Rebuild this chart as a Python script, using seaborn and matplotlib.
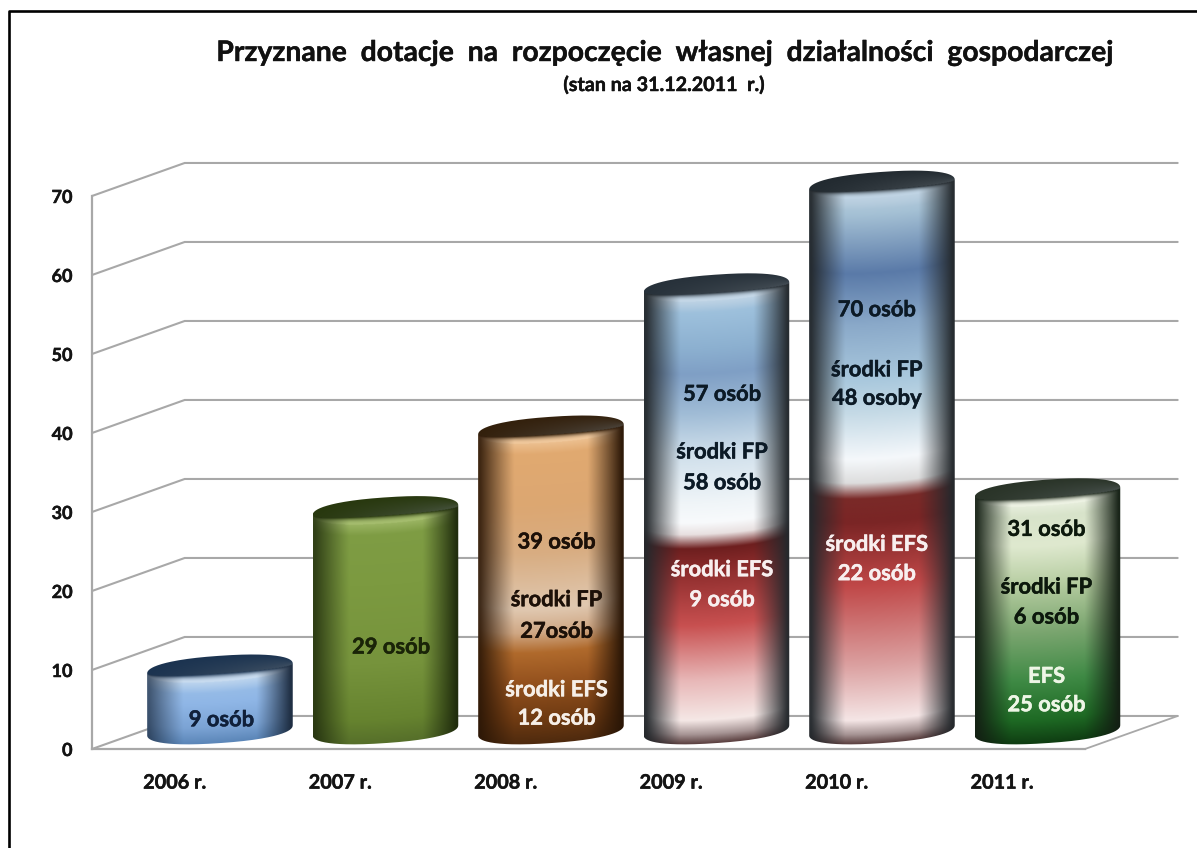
import numpy as np
import pandas as pd
import matplotlib
matplotlib.use("Agg")
import matplotlib.pyplot as plt
import matplotlib.patheffects as pe
from matplotlib.colors import to_rgb
from matplotlib.lines import Line2D
from matplotlib.patches import PathPatch
from matplotlib.path import Path
import seaborn as sns

years = ["2006 r.", "2007 r.", "2008 r.", "2009 r.", "2010 r.", "2011 r."]
heights = [7.75, 27.8, 38.0, 56.0, 69.0, 30.05]
y_ticks = [0, 10, 20, 30, 40, 50, 60, 70]

bar_texts = [
    ["9 osób"],
    ["29 osób"],
    ["39 osób", "środki FP", "27osób", "środki EFS", "12 osób"],
    ["57 osób", "środki FP", "58 osób", "środki EFS", "9 osób"],
    ["70 osób", "środki FP", "48 osoby", "środki EFS", "22 osób"],
    ["31 osób", "środki FP", "6 osób", "EFS", "25 osób"],
]

# colour along each cylinder: height in chart units, colour at the front centre
shade_z = [
    [0, 2, 5, 8],
    [0, 3, 10, 20, 28],
    [0, 3, 8, 11.5, 14, 17, 24, 30, 38],
    [0, 1.2, 3, 8, 15, 22, 24.7, 26.5, 28, 30.4, 36.7, 41.8, 46.8, 50, 54.4, 56],
    [0, 1.2, 3, 10, 20, 28, 31, 33, 36, 41.8, 46, 53, 59.5, 67, 69],
    [0, 3, 8, 14, 20, 25, 30],
]
shade_c = [
    ["#5b86b8", "#7ba3d4", "#8fb6e6", "#9cc0e8"],
    ["#566f2a", "#66832f", "#76933c", "#7c9a40", "#7f9d45"],
    ["#4e2a0e", "#6e3a12", "#96531f", "#b06a2c", "#cfa784", "#e0c8b0", "#d8ad82", "#dca772", "#e2aa70"],
    ["#5a3f3f", "#a69494", "#f5e8e6", "#e8b8b8", "#c85050", "#8c2c2c", "#6e1f1f", "#e8e0e0", "#f8fafc", "#f0f5f8", "#cfdfeb", "#a0bcd6", "#7f9fc5", "#8cb0d0", "#9dc0dc", "#a9c5dc"],
    ["#5a3f3f", "#a69494", "#f5e6e6", "#dba0a0", "#c04848", "#7a2525", "#7a2a28", "#dddddd", "#f5f8fb", "#c5dae6", "#a9c8dd", "#8aa9c9", "#5a7aa8", "#a5c1d5", "#b5cbdc"],
    ["#0f3d12", "#1e6a24", "#3f8a45", "#7aa56f", "#b5cca0", "#dfe9cf", "#d5e1c8"],
]
rim_c = ["#c9dcf0", "#a5bd6e", "#f0c89c", "#c5d8e8", "#c0d4e4", "#eef3e4"]
top_c = ["#1b3350", "#28380e", "#33200c", "#27313a", "#222a30", "#2a3428"]
edge_c = ["#1d2c40", "#1e2a0c", "#2a1606", "#23282c", "#23282c", "#141f14"]
left_dark = [0.7, 0.8, 0.88, 0.95, 0.95, 0.92]

# layout, in chart units
depth_x = 0.273
depth_y = 2.4
wall_x = 0.56
wall_y = 4.18
ell_b = 1.65
ell_shear = 0.63
ell_n = 2.3
label_y = [
    [3.7],
    [12.9],
    [26.2, 18.9, 14.9, 7.5, 3.9],
    [44.9, 37.6, 33.7, 22.7, 18.9],
    [55.6, 48.0, 44.4, 25.9, 22.2],
    [27.8, 20.5, 16.7, 9.2, 5.6],
]
label_dx = [0.01, 0.035, 0.035, 0.035, -0.03, -0.005]
ink = [["#10203a"], ["#1a2408"],
       ["#1c1008", "#1c1008", "#1c1008", "#f6efe8", "#f6efe8"],
       ["#0c1a26", "#0c1a26", "#0c1a26", "#f8efef", "#f8efef"],
       ["#0c1a26", "#0c1a26", "#0c1a26", "#f8efef", "#f8efef"],
       ["#0c180c", "#0c180c", "#0c180c", "#eef6e6", "#eef6e6"]]

sns.set_style("white")
plt.rcParams["font.family"] = ["Lato", "DejaVu Sans"]
plt.rcParams["font.weight"] = "bold"

W, H = 1197, 848
fig = plt.figure(figsize=(W / 100, H / 100), dpi=100)
ax = fig.add_axes([92 / W, 1 - 749 / H, 993 / W, 553 / H])

df = pd.DataFrame({"year": years, "value": heights})
sns.barplot(data=df, x="year", y="value", width=0.88, ax=ax)
bars = list(ax.patches)

grey = "#a8a8a8"
x0, x1 = -0.5, 5.5
for v in y_ticks:
    ax.plot([x0, x0 + wall_x, x1 + wall_x], [v, v + wall_y, v + wall_y],
            color=grey, lw=1.5, clip_on=False, zorder=1)
ax.plot([x1, x1 + wall_x], [0, wall_y], color=grey, lw=1.3, clip_on=False, zorder=1)


def heavy(colour, lw=0.35):
    return [pe.withStroke(linewidth=lw, foreground=colour)]


def ramp(z, stops, colours):
    rgb = np.array([to_rgb(c) for c in colours])
    return np.dstack([np.interp(z, stops, rgb[:, k]) for k in range(3)])


def mix(a, colour, t):
    t = np.clip(t, 0, 1)[..., None]
    return a * (1 - t) + np.array(to_rgb(colour)) * t


def cylinder(bar, i):
    half = bar.get_width() / 2
    cx = bar.get_x() + half + depth_x
    h = bar.get_height()
    base = depth_y
    y_low = base - ell_b - ell_shear
    y_high = base + h + ell_b + ell_shear
    U, Y = np.meshgrid(np.linspace(-1, 1, 300),
                       np.linspace(y_low, y_high, int((y_high - y_low) * 16)))
    rs = ell_b * (1 - np.abs(U) ** ell_n) ** (1 / ell_n)
    z = Y - base + rs - ell_shear * U
    s = Y - base - h - ell_shear * U

    rgb = ramp(z, shade_z[i], shade_c[i])
    # light bevel along the top edge
    rgb = mix(rgb, rim_c[i], 0.7 * (z - (h - 1.4)) / 1.4)
    rim = s > -rs
    t2 = (s + rs) / (0.6 * rs + 1e-6)
    rgb = np.where(rim[..., None], mix(np.full_like(rgb, to_rgb(rim_c[i])), top_c[i], t2 ** 2.6), rgb)
    # round side shading, softer on the lit left side for some bars
    side = np.clip((np.abs(U) - 0.5) / 0.47, 0, 1) ** 1.1
    strength = np.where(U < 0, left_dark[i], 0.97)
    rgb = mix(rgb, edge_c[i], strength * side)
    # dark top face
    lens = s > -0.4 * rs
    face = mix(np.full_like(rgb, to_rgb(top_c[i])), "#6a7278", 0.45 * (U + 1) / 2 * (1 - s / (rs + 1e-6)) / 1.4)
    rgb = np.where(lens[..., None], face, rgb)

    im = ax.imshow(rgb, origin="lower", aspect="auto", interpolation="bilinear",
                   extent=(cx - half, cx + half, y_low, y_high), zorder=3)
    t = np.linspace(0, np.pi, 120)
    ct = np.sign(np.cos(t)) * np.abs(np.cos(t)) ** (2 / ell_n)
    st = np.abs(np.sin(t)) ** (2 / ell_n)
    top_x = cx + half * ct
    top_y = base + h + ell_b * st + ell_shear * ct
    bot_x = cx - half * ct
    bot_y = base - ell_b * st - ell_shear * ct
    outline = np.column_stack([np.r_[top_x, bot_x, top_x[0]], np.r_[top_y, bot_y, top_y[0]]])
    patch = PathPatch(Path(outline), transform=ax.transData, fc="none", ec="none")
    ax.add_patch(patch)
    im.set_clip_path(patch)
    im.set_clip_box(fig.bbox)
    for text, v, col in zip(bar_texts[i], label_y[i], ink[i]):
        ax.text(cx + label_dx[i], v, text, ha="center", va="center", color=col,
                fontsize=15.8, fontweight="bold", zorder=5, path_effects=heavy(col))


for i, bar in enumerate(bars):
    bar.set_visible(False)
    cylinder(bar, i)

ax.set_xlim(x0, x1)
ax.set_ylim(0, 70)
ax.set_yticks(y_ticks)
ax.set_xlabel("")
ax.set_ylabel("")
ax.tick_params(axis="x", length=0, pad=17, labelsize=14.3, labelcolor="#141414")
ax.tick_params(axis="y", length=0, pad=14, labelsize=13, labelcolor="#141414")
for lab in ax.get_xticklabels() + ax.get_yticklabels():
    lab.set_fontweight("bold")
    lab.set_path_effects(heavy("#141414"))
sns.despine(ax=ax, top=True, right=True)
for side in ["left", "bottom"]:
    ax.spines[side].set_color(grey)
    ax.spines[side].set_linewidth(1.6)
    ax.spines[side].set_zorder(2)

fig.text(665.5 / W, 1 - 53 / H, "Przyznane  dotacje  na  rozpoczęcie  własnej  działalności  gospodarczej",
         ha="center", va="center", fontsize=20.4, fontweight="bold", color="#111111",
         path_effects=heavy("#111111", 0.3))
fig.text(664.5 / W, 1 - 85 / H, "(stan na 31.12.2011  r.)",
         ha="center", va="center", fontsize=14.2, fontweight="bold", color="#111111",
         path_effects=heavy("#111111"))

# slide frame: only the top and left edges fall inside the picture
fig.add_artist(Line2D([9 / W, 9 / W, 1], [0, 1 - 11 / H, 1 - 11 / H], transform=fig.transFigure,
                      color="black", lw=1.9))

fig.savefig("out.png", dpi=100, facecolor="white")
